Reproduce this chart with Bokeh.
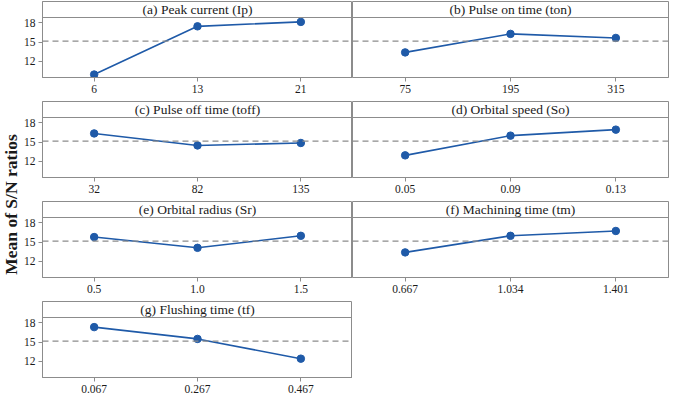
import math
from bokeh.plotting import figure
from bokeh.layouts import row, column
from bokeh.models import Span, Label, FixedTicker, ColumnDataSource
from bokeh.embed import file_html
from bokeh.resources import INLINE

# ---- data ----
titles = ["(a) Peak current (Ip)", "(b) Pulse on time (ton)",
          "(c) Pulse off time (toff)", "(d) Orbital speed (So)",
          "(e) Orbital radius (Sr)", "(f) Machining time (tm)",
          "(g) Flushing time (tf)"]
levels_a = ["6", "13", "21"]
levels_b = ["75", "195", "315"]
levels_c = ["32", "82", "135"]
levels_d = ["0.05", "0.09", "0.13"]
levels_e = ["0.5", "1.0", "1.5"]
levels_f = ["0.667", "1.034", "1.401"]
levels_g = ["0.067", "0.267", "0.467"]
sn_a = [9.96, 17.43, 18.12]
sn_b = [13.39, 16.26, 15.63]
sn_c = [16.33, 14.47, 14.85]
sn_d = [12.93, 15.99, 16.92]
sn_e = [15.77, 14.10, 15.96]
sn_f = [13.39, 15.96, 16.71]
sn_g = [17.31, 15.48, 12.42]
grand_mean = 15.15
y_ticks = [12, 15, 18]
y_label = "Mean of S/N ratios"

levels = [levels_a, levels_b, levels_c, levels_d, levels_e, levels_f, levels_g]
sns = [sn_a, sn_b, sn_c, sn_d, sn_e, sn_f, sn_g]

# ---- style ----
FONT = "Liberation Serif"
GRAY = "#8c8c8c"
BLUE = "#1f5aa8"
TXT = "#1a1a1a"
Y_LO, Y_PLOT_TOP = 9.5, 18.8
FRAME_H = 76
STRIP_H = 16
PLOT_H = FRAME_H - STRIP_H
Y_TOP = Y_PLOT_TOP + (Y_PLOT_TOP - Y_LO) * STRIP_H / PLOT_H


def panel(i, left):
    frame_w = 310 if left else 316
    mbl = 22 if left else 0
    mbr = 0 if left else 1
    p = figure(width=frame_w + mbl + mbr, height=100,
               x_range=(0.5, 3.5), y_range=(Y_LO, Y_TOP),
               output_backend="svg", toolbar_location=None,
               min_border_left=mbl, min_border_right=mbr,
               min_border_top=1, min_border_bottom=23)
    p.outline_line_color = GRAY
    p.outline_line_width = 1
    p.xgrid.visible = False
    p.ygrid.visible = False
    p.background_fill_color = "white"
    p.border_fill_color = "white"

    xs = [1, 2, 3]
    src = ColumnDataSource(dict(x=xs, y=sns[i]))
    p.add_layout(Span(location=grand_mean, dimension="width",
                      line_color=GRAY, line_dash="6 4", line_width=1.3))
    p.add_layout(Span(location=Y_PLOT_TOP, dimension="width",
                      line_color=GRAY, line_width=1))
    p.line("x", "y", source=src, line_color=BLUE, line_width=1.6)
    p.scatter("x", "y", source=src, size=7.5, fill_color=BLUE, line_color=BLUE)

    p.add_layout(Label(x=2, y=(Y_PLOT_TOP + Y_TOP) / 2, text=titles[i],
                       text_align="center", text_baseline="middle",
                       text_font=FONT, text_font_size="13.5px", text_color=TXT))

    xa = p.xaxis[0]
    xa.ticker = FixedTicker(ticks=xs)
    xa.major_label_overrides = {k: v for k, v in zip(xs, levels[i])}
    xa.minor_tick_line_color = None
    xa.major_tick_in = 0
    xa.major_tick_out = 4
    xa.major_tick_line_color = GRAY
    xa.axis_line_color = GRAY
    xa.major_label_standoff = 3
    xa.major_label_text_font = FONT
    xa.major_label_text_font_size = "11.5px"
    xa.major_label_text_color = TXT

    ya = p.yaxis[0]
    if left:
        ya.ticker = FixedTicker(ticks=y_ticks)
        ya.minor_tick_line_color = None
        ya.major_tick_in = 0
        ya.major_tick_out = 4
        ya.major_tick_line_color = GRAY
        ya.axis_line_color = GRAY
        ya.major_label_standoff = 3
        ya.major_label_text_font = FONT
        ya.major_label_text_font_size = "11.5px"
        ya.major_label_text_color = TXT
    else:
        ya.visible = False
    return p


left_col = column(*[panel(i, True) for i in (0, 2, 4, 6)])
right_col = column(*[panel(i, False) for i in (1, 3, 5)])

lab = figure(width=20, height=400, x_range=(0, 1), y_range=(0, 1),
             output_backend="svg", toolbar_location=None,
             min_border_left=0, min_border_right=0,
             min_border_top=0, min_border_bottom=0)
lab.axis.visible = False
lab.grid.visible = False
lab.outline_line_color = None
lab.add_layout(Label(x=0.5, y=0.49, text=y_label, angle=math.pi / 2,
                     text_align="center", text_baseline="middle",
                     text_font=FONT, text_font_style="bold",
                     text_font_size="17.5px", text_color=TXT))

p = row(lab, left_col, right_col)

open("out.html", "w").write(file_html(p, INLINE))
